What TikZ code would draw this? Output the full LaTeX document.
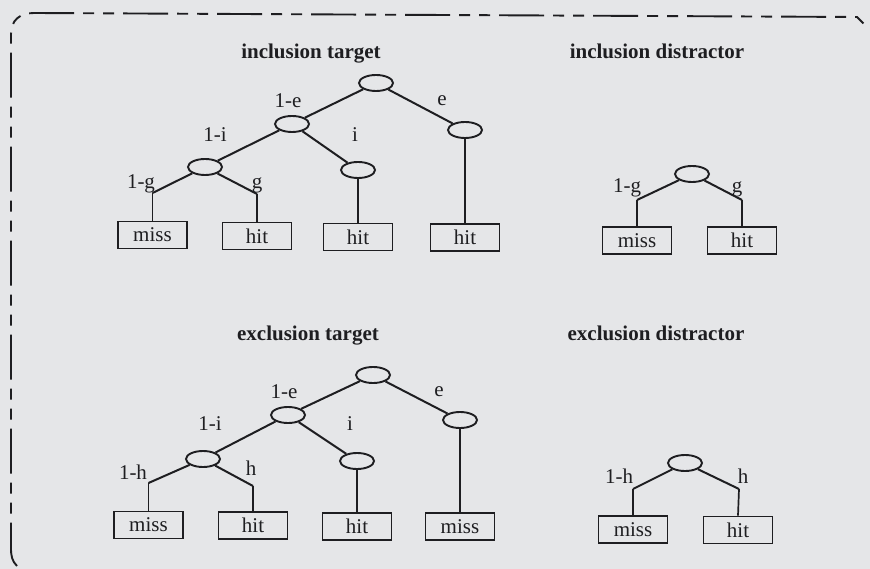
\documentclass[tikz,border=0pt]{standalone}
\usepackage{fontspec}
\setmainfont{Liberation Serif}
\usetikzlibrary{shapes.geometric}
\definecolor{paper}{RGB}{229,230,232}
\definecolor{ink}{RGB}{30,30,33}
\tikzset{
  every node/.style={font=\fontsize{21}{24}\selectfont, text=ink},
  treetitle/.style={font=\fontsize{21}{24}\selectfont\bfseries, anchor=base},
  elab/.style={anchor=base},
  choice/.style={draw=ink, ellipse, line width=1.9pt, minimum width=34pt, minimum height=16pt, inner sep=0pt},
  outcome/.style={draw=ink, rectangle, line width=1.8pt, minimum width=69pt, minimum height=27pt, inner sep=0pt},
  branch/.style={draw=ink, line width=2pt},
  stem/.style={draw=ink, line width=1.7pt},
  borderline/.style={draw=ink, line width=1.9pt, dash pattern=on 45pt off 9pt on 11pt off 9pt on 11pt off 9pt}
}
\begin{document}
\begin{tikzpicture}[x=1pt, y=-1pt]
\fill[paper] (0,0) rectangle (870,569);
\useasboundingbox (0,0) rectangle (870,569);

% dashed frame
\draw[borderline] (17,566) .. controls (12,561) and (11,556) .. (11,548) -- (11,34) .. controls (11,20) and (20,13) .. (34,13) -- (857,17) -- (866,26);

% ---------- inclusion target ----------
\node[treetitle] (tA) at (311,59) {inclusion target};
\node[choice] (A0) at (376,83) {};
\node[choice] (A1) at (292,124) {};
\node[choice] (A2) at (465,130) {};
\node[choice] (A3) at (205,167) {};
\node[choice] (A4) at (358,170) {};
\coordinate (cA1) at (152.5,193);
\coordinate (cA2) at (257,194);
\node[outcome] (Ab1) at (152.5,235) {miss};
\node[outcome] (Ab2) at (257,236) {hit};
\node[outcome] (Ab3) at (358,237) {hit};
\node[outcome] (Ab4) at (465,237.5) {hit};
\draw[branch] (A0) -- (A1);
\draw[branch] (A0) -- (A2);
\draw[branch] (A1) -- (A3);
\draw[branch] (A1) -- (A4);
\draw[branch] (A3) -- (cA1);
\draw[branch] (A3) -- (cA2);
\draw[stem] (cA1) -- (Ab1.north);
\draw[stem] (cA2) -- (Ab2.north);
\draw[stem] (A4) -- (Ab3.north);
\draw[stem] (A2) -- (Ab4.north);
\node[elab] (lA1) at (288,108) {1-e};
\node[elab] (lA2) at (442,106) {e};
\node[elab] (lA3) at (215,142) {1-i};
\node[elab] (lA4) at (355,142) {i};
\node[elab] (lA5) at (141,189) {1-g};
\node[elab] (lA6) at (257,189) {g};

% ---------- inclusion distractor ----------
\node[treetitle] (tB) at (657,59) {inclusion distractor};
\node[choice] (B0) at (692,174) {};
\coordinate (cB1) at (637,200);
\coordinate (cB2) at (742,200);
\node[outcome] (Bb1) at (637,240.5) {miss};
\node[outcome] (Bb2) at (742,240.5) {hit};
\draw[branch] (B0) -- (cB1);
\draw[branch] (B0) -- (cB2);
\draw[stem] (cB1) -- (Bb1.north);
\draw[stem] (cB2) -- (Bb2.north);
\node[elab] (lB1) at (627,193) {1-g};
\node[elab] (lB2) at (737,193) {g};

% ---------- exclusion target ----------
\node[treetitle] (tC) at (308,340) {exclusion target};
\node[choice] (C0) at (373,375) {};
\node[choice] (C1) at (288,415) {};
\node[choice] (C2) at (460,420) {};
\node[choice] (C3) at (203,459) {};
\node[choice] (C4) at (357,461) {};
\coordinate (cC1) at (148.5,483);
\coordinate (cC2) at (253,486);
\node[outcome] (Cb1) at (148.5,525) {miss};
\node[outcome] (Cb2) at (253,525.5) {hit};
\node[outcome] (Cb3) at (357,526.5) {hit};
\node[outcome] (Cb4) at (460,526.5) {miss};
\draw[branch] (C0) -- (C1);
\draw[branch] (C0) -- (C2);
\draw[branch] (C1) -- (C3);
\draw[branch] (C1) -- (C4);
\draw[branch] (C3) -- (cC1);
\draw[branch] (C3) -- (cC2);
\draw[stem] (cC1) -- (Cb1.north);
\draw[stem] (cC2) -- (Cb2.north);
\draw[stem] (C4) -- (Cb3.north);
\draw[stem] (C2) -- (Cb4.north);
\node[elab] (lC1) at (284,398) {1-e};
\node[elab] (lC2) at (439,396) {e};
\node[elab] (lC3) at (210,430) {1-i};
\node[elab] (lC4) at (350,430) {i};
\node[elab] (lC5) at (133,479) {1-h};
\node[elab] (lC6) at (251,475) {h};

% ---------- exclusion distractor ----------
\node[treetitle] (tD) at (656,340) {exclusion distractor};
\node[choice] (D0) at (685,463) {};
\coordinate (cD1) at (633,489);
\coordinate (cD2) at (739,489);
\node[outcome] (Db1) at (633,529.5) {miss};
\node[outcome] (Db2) at (738,530) {hit};
\draw[branch] (D0) -- (cD1);
\draw[branch] (D0) -- (cD2);
\draw[stem] (cD1) -- (Db1.north);
\draw[stem] (cD2) -- (Db2.north);
\node[elab] (lD1) at (619,483) {1-h};
\node[elab] (lD2) at (743,483) {h};
\end{tikzpicture}
\end{document}
